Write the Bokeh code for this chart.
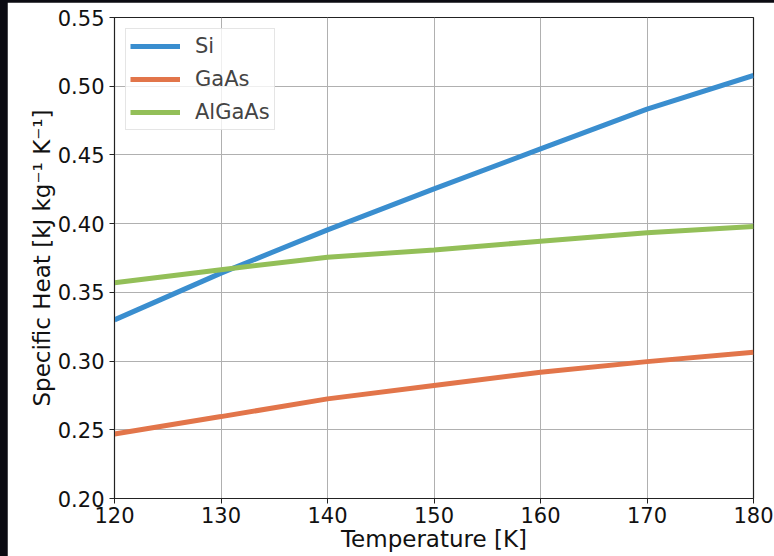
from bokeh.plotting import figure
from bokeh.embed import file_html
from bokeh.resources import INLINE
from bokeh.models import FixedTicker, NumeralTickFormatter, Range1d, Legend, LegendItem
from bokeh.layouts import column

# Data
temperature = [120, 130, 140, 150, 160, 170, 180]
si = [0.330, 0.364, 0.3955, 0.4253, 0.4544, 0.4833, 0.5078]
gaas = [0.247, 0.2596, 0.2725, 0.2822, 0.2919, 0.2996, 0.3064]
algaas = [0.357, 0.3665, 0.3756, 0.3809, 0.3872, 0.3933, 0.3979]

series_names = ["Si", "GaAs", "AlGaAs"]
colors = ["#3a8ecf", "#e2754a", "#93bf58"]

x_ticks = [120, 130, 140, 150, 160, 170, 180]
y_ticks = [0.20, 0.25, 0.30, 0.35, 0.40, 0.45, 0.50, 0.55]

FONT = "DejaVu Sans"

p = figure(width=767, height=554, output_backend="svg", toolbar_location=None,
           x_range=Range1d(120, 180), y_range=Range1d(0.20, 0.55),
           min_border_left=107, min_border_right=21, min_border_top=15, min_border_bottom=58)
p.margin = (2, 0, 0, 7)

renderers = []
for name, ys, c in zip(series_names, [si, gaas, algaas], colors):
    r = p.line(temperature, ys, line_color=c, line_width=5)
    renderers.append((name, r))

legend = Legend(items=[LegendItem(label=n, renderers=[r]) for n, r in renderers],
                location="top_left")
legend.label_text_font = FONT
legend.label_text_font_size = "21px"
legend.glyph_width = 50
legend.glyph_height = 26
legend.label_height = 26
legend.spacing = 7
legend.padding = 4
legend.margin = 11
legend.label_standoff = 15
legend.border_line_color = "#cccccc"
legend.border_line_width = 1
legend.background_fill_alpha = 0.8
p.add_layout(legend)

p.outline_line_color = "#222222"
p.outline_line_width = 1.2

for ax in (p.xaxis[0], p.yaxis[0]):
    ax.major_label_text_font = FONT
    ax.major_label_text_font_size = "21px"
    ax.major_label_text_color = "#111111"
    ax.axis_label_text_font = FONT
    ax.axis_label_text_font_size = "23px"
    ax.axis_label_text_font_style = "normal"
    ax.axis_label_text_color = "#111111"
    ax.minor_tick_line_color = None
    ax.major_tick_out = 5
    ax.major_tick_in = 0
    ax.axis_line_color = "#222222"
    ax.major_tick_line_color = "#222222"

p.xaxis.ticker = FixedTicker(ticks=x_ticks)
p.yaxis.ticker = FixedTicker(ticks=y_ticks)
p.yaxis.formatter = NumeralTickFormatter(format="0.00")
p.xaxis.axis_label = "Temperature [K]"
p.yaxis.axis_label = "Specific Heat [kJ kg⁻¹ K⁻¹]"
p.xaxis.major_label_standoff = 3
p.xaxis.axis_label_standoff = 0
p.yaxis.major_label_standoff = 5
p.yaxis.axis_label_standoff = 0

p.grid.grid_line_color = "#b0b0b0"
p.grid.grid_line_width = 1
p.xgrid.ticker = FixedTicker(ticks=x_ticks)
p.ygrid.ticker = FixedTicker(ticks=y_ticks)

p.background_fill_color = "white"
p.border_fill_color = "white"

layout = column(p, styles={"background-color": "#0b0b12"}, margin=0, spacing=0)

open("out.html", "w").write(file_html(layout, INLINE))
